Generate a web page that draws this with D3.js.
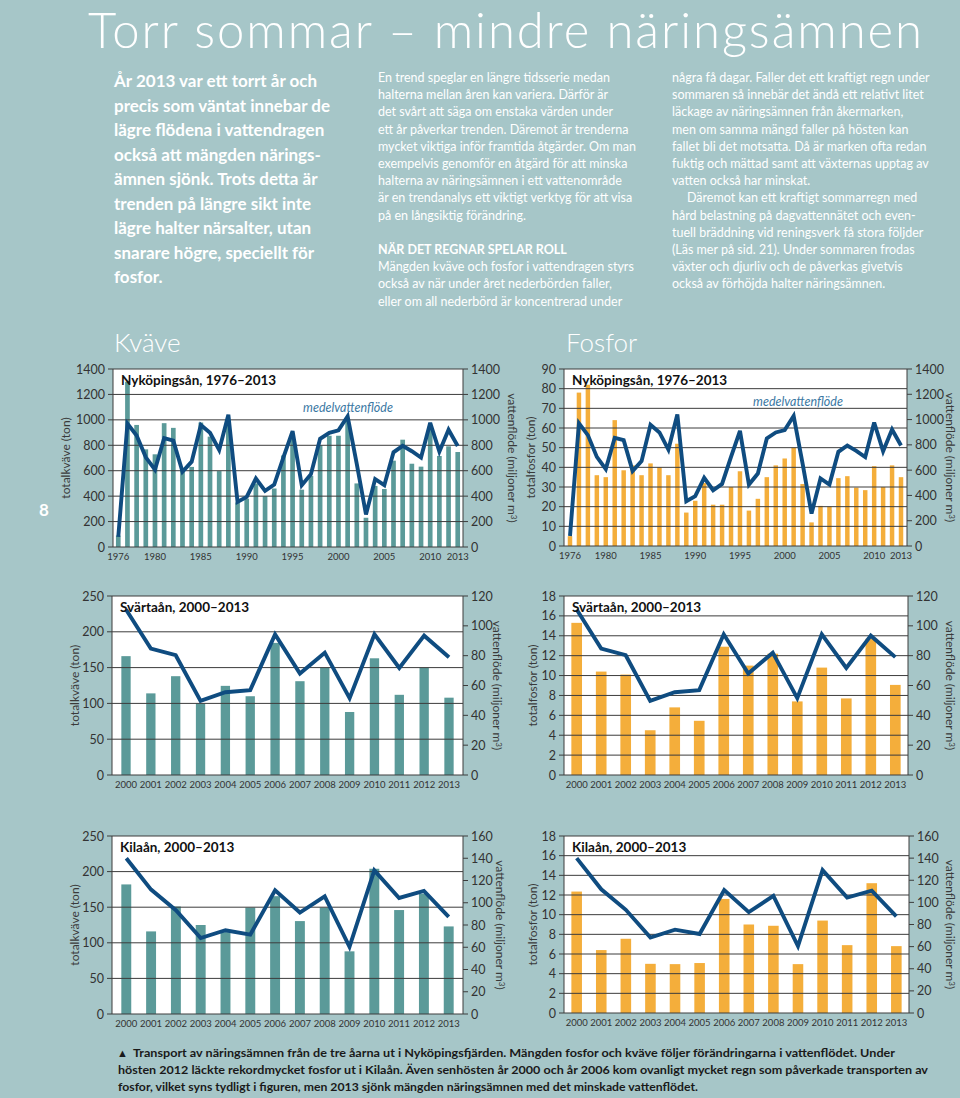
<!DOCTYPE html>
<html><head><meta charset="utf-8">
<script src="https://cdn.jsdelivr.net/npm/d3@7"></script>
<style>body{margin:0;background:#a6c6c8}svg{display:block}</style>
</head><body>
<script>
// ---------- DATA ----------
const nykYears = [1976,1977,1978,1979,1980,1981,1982,1983,1984,1985,1986,1987,1988,1989,1990,1991,1992,1993,1994,1995,1996,1997,1998,1999,2000,2001,2002,2003,2004,2005,2006,2007,2008,2009,2010,2011,2012,2013];
const nykYearLabels = [1976,1980,1985,1990,1995,2000,2005,2010,2013];
const nykKvave = [90,1300,960,768,729,974,937,600,630,979,868,597,1000,350,380,500,400,460,720,860,451,560,800,875,875,1000,500,230,480,456,679,844,655,632,950,716,792,747];
const nykFosfor = [5,78,82,36,35,64,38.5,41,36,42,40,36,52,17,23,32,21,21,30,38,18,24,35,41,44.5,50,31.5,12,20.4,20,34.5,35.5,29.7,28.4,40.6,30,41,35];
const nykFlow = [79,970,877,705,608,856,837,592,671,959,898,763,1041,354,394,539,441,491,705,911,486,573,851,898,917,1028,652,256,534,486,745,795,753,703,977,750,922,795];

const shortYears = [2000,2001,2002,2003,2004,2005,2006,2007,2008,2009,2010,2011,2012,2013];
const svKvave = [166,114,138,100,124.5,110,184.5,131,150,88,163,112,150,108];
const svFosfor = [15.3,10.4,10.1,4.5,6.8,5.45,12.9,11.0,12.2,7.4,10.8,7.7,13.7,9.06];
const svFlow = [111,84.7,80.3,49.7,55.5,56.9,94.3,68,82,51.5,94.3,71.8,93.4,79];

const kiKvave = [182,116,151,125,115,149.5,165.5,130.5,149.5,88,204,146,169,123];
const kiFosfor = [12.35,6.4,7.55,5.0,4.97,5.08,11.6,9.0,8.87,4.97,9.4,6.9,13.2,6.8];
const kiFlow = [140,111.8,93.3,68.2,75.3,71.4,111.2,91.2,105.8,60.4,129.1,104.3,110.6,87.3];

const ticksN1400 = [0,200,400,600,800,1000,1200,1400];
const ticksP90 = [0,10,20,30,40,50,60,70,80,90];
const ticks250 = [0,50,100,150,200,250];
const ticks18 = [0,2,4,6,8,10,12,14,16,18];
const ticks120 = [0,20,40,60,80,100,120];
const ticks160 = [0,20,40,60,80,100,120,140,160];

// ---------- TEXTS ----------
const title = "Torr sommar – mindre näringsämnen";
const leadLines = ["År 2013 var ett torrt år och","precis som väntat innebar de","lägre flödena i vattendragen","också att mängden närings-","ämnen sjönk. Trots detta är","trenden på längre sikt inte","lägre halter närsalter, utan","snarare högre, speciellt för","fosfor."];
const midLines = ["En trend speglar en längre tidsserie medan","halterna mellan åren kan variera. Därför är","det svårt att säga om enstaka värden under","ett år påverkar trenden. Däremot är trenderna","mycket viktiga inför framtida åtgärder. Om man","exempelvis genomför en åtgärd för att minska","halterna av näringsämnen i ett vattenområde","är en trendanalys ett viktigt verktyg för att visa","på en långsiktig förändring."];
const midHeading = "NÄR DET REGNAR SPELAR ROLL";
const midLines2 = ["Mängden kväve och fosfor i vattendragen styrs","också av när under året nederbörden faller,","eller om all nederbörd är koncentrerad under"];
const rightLines = ["några få dagar. Faller det ett kraftigt regn under","sommaren så innebär det ändå ett relativt litet","läckage av näringsämnen från åkermarken,","men om samma mängd faller på hösten kan","fallet bli det motsatta. Då är marken ofta redan","fuktig och mättad samt att växternas upptag av","vatten också har minskat.","Däremot kan ett kraftigt sommarregn med","hård belastning på dagvattennätet och even-","tuell bräddning vid reningsverk få stora följder","(Läs mer på sid. 21). Under sommaren frodas","växter och djurliv och de påverkas givetvis","också av förhöjda halter näringsämnen."];
const captionLines = ["Transport av näringsämnen från de tre åarna ut i Nyköpingsfjärden. Mängden fosfor och kväve följer förändringarna i vattenflödet. Under","hösten 2012 läckte rekordmycket fosfor ut i Kilaån. Även senhösten år 2000 och år 2006 kom ovanligt mycket regn som påverkade transporten av","fosfor, vilket syns tydligt i figuren, men 2013 sjönk mängden näringsämnen med det minskade vattenflödet."];

// ---------- STYLE ----------
const BG = "#a6c6c8", TEAL = "#5b9a99", ORANGE = "#f4ae3b", LINE = "#0f4c80", GRID = "#3c3c3c";
const FONT = "Lato, 'Open Sans', sans-serif";

const svg = d3.select("body").append("svg").attr("width",960).attr("height",1098);
svg.append("rect").attr("width",960).attr("height",1098).attr("fill",BG);

// Header texts
svg.append("text").attr("x",88).attr("y",48).attr("fill","#fff")
  .attr("font-family",FONT).attr("font-weight",300).attr("font-size",49)
  .attr("textLength",834).attr("lengthAdjust","spacing").text(title);

svg.append("g").selectAll("text").data(leadLines).join("text")
  .attr("x",114).attr("y",(d,i)=>87+i*24.5).attr("fill","#fff")
  .attr("font-family",FONT).attr("font-weight",700).attr("font-size",17).text(d=>d);

const pSize = 12.5, pLH = 17.2;
svg.append("g").selectAll("text").data(midLines).join("text")
  .attr("x",378).attr("y",(d,i)=>82+i*pLH).attr("fill","#fff")
  .attr("font-family",FONT).attr("font-weight",400).attr("font-size",pSize).text(d=>d);
svg.append("text").attr("x",378).attr("y",254).attr("fill","#fff")
  .attr("font-family",FONT).attr("font-weight",700).attr("font-size",pSize).text(midHeading);
svg.append("g").selectAll("text").data(midLines2).join("text")
  .attr("x",378).attr("y",(d,i)=>271.2+i*pLH).attr("fill","#fff")
  .attr("font-family",FONT).attr("font-weight",400).attr("font-size",pSize).text(d=>d);
svg.append("g").selectAll("text").data(rightLines).join("text")
  .attr("x",(d,i)=>i===7?687:672).attr("y",(d,i)=>82+i*pLH).attr("fill","#fff")
  .attr("font-family",FONT).attr("font-weight",400).attr("font-size",pSize).text(d=>d);

svg.append("text").attr("x",114).attr("y",352).attr("fill","#fff")
  .attr("font-family",FONT).attr("font-weight",300).attr("font-size",26).text("Kväve");
svg.append("text").attr("x",566).attr("y",352).attr("fill","#fff")
  .attr("font-family",FONT).attr("font-weight",300).attr("font-size",26).text("Fosfor");
svg.append("text").attr("x",44).attr("y",516).attr("fill","#fff").attr("text-anchor","middle")
  .attr("font-family",FONT).attr("font-weight",700).attr("font-size",17).text("8");

// ---------- CHART FUNCTION ----------
function chart(c){
  const g = svg.append("g");
  const x = d3.scaleBand().domain(c.years).range([c.x0,c.x1]).paddingInner(c.pi).paddingOuter(c.po);
  const yL = d3.scaleLinear().domain([0,c.lt[c.lt.length-1]]).range([c.y1,c.y0]);
  const yR = d3.scaleLinear().domain([0,c.rt[c.rt.length-1]]).range([c.y1,c.y0]);
  g.append("rect").attr("x",c.x0).attr("y",c.y0).attr("width",c.x1-c.x0).attr("height",c.y1-c.y0).attr("fill","#fff");
  g.append("g").selectAll("rect").data(c.bars).join("rect")
    .attr("x",(d,i)=>x(c.years[i])).attr("width",x.bandwidth())
    .attr("y",d=>yL(d)).attr("height",d=>c.y1-yL(d)).attr("fill",c.color);
  g.append("g").selectAll("line").data(c.lt).join("line")
    .attr("x1",c.x0-5).attr("x2",c.x1).attr("y1",d=>yL(d)).attr("y2",d=>yL(d))
    .attr("stroke",GRID).attr("stroke-width",1);
  g.append("g").selectAll("line").data(c.rt).join("line")
    .attr("x1",c.x1).attr("x2",c.x1+5).attr("y1",d=>yR(d)).attr("y2",d=>yR(d))
    .attr("stroke",GRID).attr("stroke-width",1);
  g.append("line").attr("x1",c.x0).attr("x2",c.x0).attr("y1",c.y0).attr("y2",c.y1).attr("stroke",GRID);
  g.append("line").attr("x1",c.x1).attr("x2",c.x1).attr("y1",c.y0).attr("y2",c.y1).attr("stroke",GRID);
  const line = d3.line().x((d,i)=>x(c.years[i])+x.bandwidth()/2).y(d=>yR(d));
  g.append("path").datum(c.flow).attr("d",line).attr("fill","none")
    .attr("stroke",LINE).attr("stroke-width",3.9).attr("stroke-linejoin","miter").attr("stroke-miterlimit",3);
  g.append("g").selectAll("text").data(c.lt).join("text")
    .attr("x",c.x0-8).attr("y",d=>yL(d)).attr("dy","0.36em").attr("text-anchor","end")
    .attr("font-family",FONT).attr("font-size",12.5).attr("fill","#333").text(d=>d);
  g.append("g").selectAll("text").data(c.rt).join("text")
    .attr("x",c.x1+8).attr("y",d=>yR(d)).attr("dy","0.36em").attr("text-anchor","start")
    .attr("font-family",FONT).attr("font-size",12.5).attr("fill","#333").text(d=>d);
  g.append("g").selectAll("text").data(c.xlabels).join("text")
    .attr("x",d=>x(d)+x.bandwidth()/2).attr("y",c.y1+13).attr("text-anchor","middle")
    .attr("font-family",FONT).attr("font-size",c.xfs).attr("fill","#333").text(d=>d);
  const cy = (c.y0+c.y1)/2;
  g.append("text").attr("transform",`translate(${c.ltx},${cy}) rotate(-90)`).attr("text-anchor","middle")
    .attr("dy","0.35em").attr("font-family",FONT).attr("font-size",12).attr("fill","#3a3a3a").text(c.ltitle);
  const rt = g.append("text").attr("transform",`translate(${c.rtx},${cy}) rotate(90)`).attr("text-anchor","middle")
    .attr("dy","0.35em").attr("font-family",FONT).attr("font-size",12).attr("fill","#3a3a3a");
  rt.append("tspan").text("vattenflöde (miljoner m");
  rt.append("tspan").attr("font-size",8).attr("dy","-0.45em").text("3");
  rt.append("tspan").attr("dy","0.3em").text(")");
  g.append("text").attr("x",c.x0+8).attr("y",c.y0+16).attr("font-family",FONT).attr("font-weight",700)
    .attr("font-size",13.5).attr("fill","#111").text(c.title);
  if(c.medel){
    g.append("text").attr("x",c.medel[0]).attr("y",c.medel[1]).attr("text-anchor","middle")
      .attr("font-family",FONT).attr("font-style","italic").attr("font-size",12.5).attr("fill","#3b78a3").text("medelvattenflöde");
  }
}

chart({years:nykYears,bars:nykKvave,flow:nykFlow,color:TEAL,x0:113,x1:463,y0:369,y1:547,pi:0.49,po:0.32,
  lt:ticksN1400,rt:ticksN1400,xlabels:nykYearLabels,xfs:9.5,ltx:66,rtx:512,ltitle:"totalkväve (ton)",
  title:"Nyköpingsån, 1976–2013",medel:[348,412]});
chart({years:nykYears,bars:nykFosfor,flow:nykFlow,color:ORANGE,x0:564,x1:907,y0:369,y1:546,pi:0.5,po:0.42,
  lt:ticksP90,rt:ticksN1400,xlabels:nykYearLabels,xfs:9.5,ltx:531,rtx:950,ltitle:"totalfosfor (ton)",
  title:"Nyköpingsån, 1976–2013",medel:[798,406]});
chart({years:shortYears,bars:svKvave,flow:svFlow,color:TEAL,x0:112,x1:463,y0:596,y1:775,pi:0.625,po:0.376,
  lt:ticks250,rt:ticks120,xlabels:shortYears,xfs:9.5,ltx:75,rtx:497,ltitle:"totalkväve (ton)",
  title:"Svärtaån, 2000–2013"});
chart({years:shortYears,bars:svFosfor,flow:svFlow,color:ORANGE,x0:564,x1:908,y0:596,y1:775,pi:0.565,po:0.3,
  lt:ticks18,rt:ticks120,xlabels:shortYears,xfs:9.5,ltx:533,rtx:950,ltitle:"totalfosfor (ton)",
  title:"Svärtaån, 2000–2013"});
chart({years:shortYears,bars:kiKvave,flow:kiFlow,color:TEAL,x0:112,x1:463,y0:836,y1:1014,pi:0.6,po:0.376,
  lt:ticks250,rt:ticks160,xlabels:shortYears,xfs:9.5,ltx:75,rtx:500,ltitle:"totalkväve (ton)",
  title:"Kilaån, 2000–2013"});
chart({years:shortYears,bars:kiFosfor,flow:kiFlow,color:ORANGE,x0:564,x1:909,y0:836,y1:1013,pi:0.57,po:0.3,
  lt:ticks18,rt:ticks160,xlabels:shortYears,xfs:9.5,ltx:533,rtx:950,ltitle:"totalfosfor (ton)",
  title:"Kilaån, 2000–2013"});

// caption
svg.append("text").attr("x",117).attr("y",1057).attr("font-size",11).attr("fill","#1a1a1a").text("▲");
const capX = [133,118,118], capW = [762,810,580];
svg.append("g").selectAll("text").data(captionLines).join("text")
  .attr("x",(d,i)=>capX[i]).attr("y",(d,i)=>1057+i*17)
  .attr("textLength",(d,i)=>capW[i]).attr("lengthAdjust","spacingAndGlyphs")
  .attr("font-family",FONT).attr("font-weight",700).attr("font-size",12).attr("fill","#1a1a1a").text(d=>d);
</script>
</body></html>
